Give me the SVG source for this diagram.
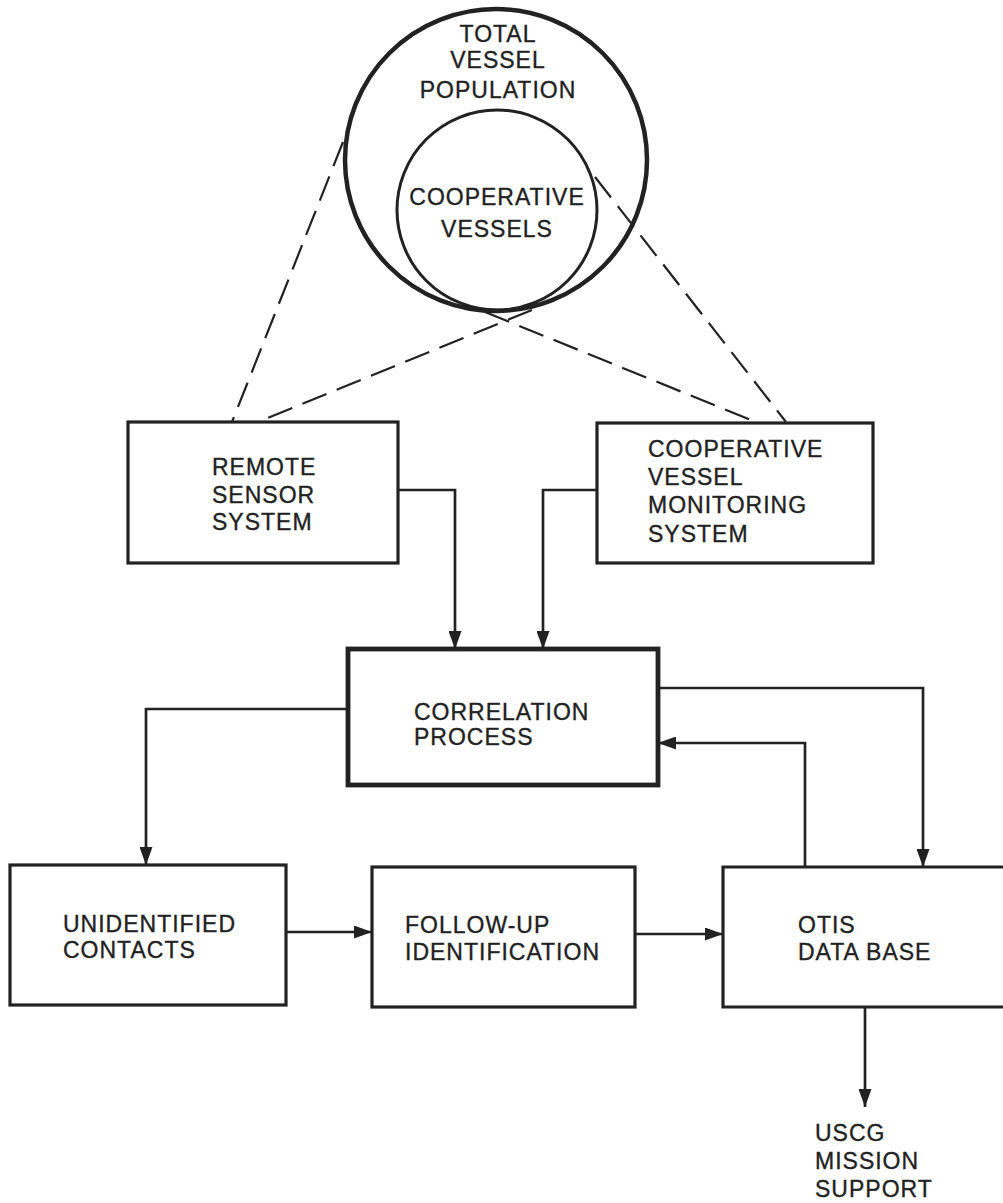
<svg xmlns="http://www.w3.org/2000/svg" width="1003" height="1203" viewBox="0 0 1003 1203">
<defs>
<style>
.t{font-family:"Liberation Sans",Arial,sans-serif;font-size:23px;letter-spacing:1px;fill:#222;stroke:#222;stroke-width:0.35}
.c{text-anchor:middle}
.box{fill:none;stroke:#222;stroke-width:3.2}
.thick{fill:none;stroke:#222;stroke-width:4.8}
.ln{fill:none;stroke:#222;stroke-width:2.7}
.dash{fill:none;stroke:#222;stroke-width:2.2;stroke-dasharray:26 11}
</style>
<marker id="ah" markerUnits="userSpaceOnUse" markerWidth="19" markerHeight="13" refX="18" refY="6.5" orient="auto">
<path d="M0,0 L18,6.5 L0,13 z" fill="#222"/>
</marker>
</defs>
<rect width="1003" height="1203" fill="#fff"/>
<g id="population">
<circle cx="496" cy="160" r="151" fill="none" stroke="#222" stroke-width="4.5"/>
<text class="t c" x="498" y="42">TOTAL</text>
<text class="t c" x="498" y="68">VESSEL</text>
<text class="t c" x="498" y="98">POPULATION</text>
</g>
<g id="cooperative-vessels">
<circle cx="497" cy="210" r="100" fill="none" stroke="#222" stroke-width="3"/>
<text class="t c" x="497" y="205">COOPERATIVE</text>
<text class="t c" x="497" y="237">VESSELS</text>
</g>
<g id="remote-sensor">
<rect class="box" x="128" y="422" width="270" height="141"/>
<text class="t" x="212" y="475">REMOTE</text>
<text class="t" x="212" y="503">SENSOR</text>
<text class="t" x="212" y="530">SYSTEM</text>
</g>
<g id="coop-monitoring">
<rect class="box" x="597" y="423" width="276" height="140"/>
<text class="t" x="648" y="457">COOPERATIVE</text>
<text class="t" x="648" y="485">VESSEL</text>
<text class="t" x="648" y="513">MONITORING</text>
<text class="t" x="648" y="542">SYSTEM</text>
</g>
<g id="correlation">
<rect class="thick" x="348" y="649" width="310" height="136"/>
<text class="t" x="414" y="720">CORRELATION</text>
<text class="t" x="414" y="745">PROCESS</text>
</g>
<g id="unidentified">
<rect class="box" x="10" y="865" width="276" height="140"/>
<text class="t" x="63" y="932">UNIDENTIFIED</text>
<text class="t" x="63" y="958">CONTACTS</text>
</g>
<g id="follow-up">
<rect class="box" x="372" y="867" width="263" height="140"/>
<text class="t" x="405" y="933">FOLLOW-UP</text>
<text class="t" x="405" y="960">IDENTIFICATION</text>
</g>
<g id="otis">
<path class="box" d="M1005,867 H723 V1007 H1005"/>
<text class="t" x="798" y="933">OTIS</text>
<text class="t" x="798" y="960">DATA BASE</text>
</g>
<g id="uscg">
<text class="t" x="815" y="1141">USCG</text>
<text class="t" x="815" y="1169">MISSION</text>
<text class="t" x="815" y="1197">SUPPORT</text>
</g>
<g id="connectors">
<path class="dash" d="M343,142 L232,422"/>
<path class="dash" d="M532,310 L258,422"/>
<path class="dash" d="M485,312 L756,422"/>
<path class="dash" d="M595,177 L786,422"/>
<path class="ln" d="M398,490 H455 V649" marker-end="url(#ah)"/>
<path class="ln" d="M597,490 H543 V649" marker-end="url(#ah)"/>
<path class="ln" d="M348,709 H146 V865" marker-end="url(#ah)"/>
<path class="ln" d="M658,688 H923 V867" marker-end="url(#ah)"/>
<path class="ln" d="M805,867 V743 H658" marker-end="url(#ah)"/>
<path class="ln" d="M286,932 H372" marker-end="url(#ah)"/>
<path class="ln" d="M635,934 H723" marker-end="url(#ah)"/>
<path class="ln" d="M865,1007 V1107" marker-end="url(#ah)"/>
</g>
</svg>
